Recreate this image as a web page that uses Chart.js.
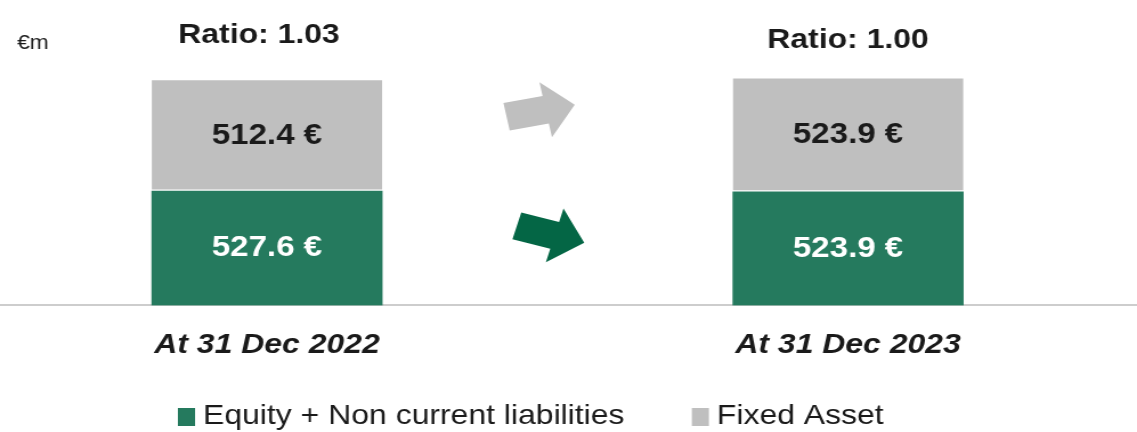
<!DOCTYPE html>
<html>
<head>
<meta charset="utf-8">
<script src="https://cdn.jsdelivr.net/npm/chart.js@4.4.1/dist/chart.umd.min.js"></script>
<style>
  html, body { margin: 0; padding: 0; background: #fff; overflow: hidden; }
  #wrap { width: 1137px; height: 432px; overflow: hidden; }
  /* the artwork uses slightly wide lettering: draw at 997px and stretch to 1137px */
  #c { display: block; transform: scaleX(1.14042); transform-origin: 0 0; }
</style>
</head>
<body>
<div id="wrap"><canvas id="c" width="997" height="432"></canvas></div>
<script>
// ---- data ----
const categories = ['At 31 Dec 2022', 'At 31 Dec 2023'];
const equityNonCurrent = [527.6, 523.9];   // Equity + Non current liabilities, €m
const fixedAsset = [512.4, 523.9];         // Fixed Asset, €m
const seriesNames = ['Equity + Non current liabilities', 'Fixed Asset'];
const unitLabel = '€m';

// ---- style ----
const FONT = '"Liberation Sans", Arial, Helvetica, sans-serif';
const INK = '#1a1a1a';
const GREEN = '#257a5e';
const GREY = '#bfbfbf';

const toPoints = vals => vals.map((v, i) => ({ x: i, y: v }));

// Value labels, ratio headings, unit, arrows and legend
const decorations = {
  id: 'decorations',
  afterDatasetsDraw(chart, args, opts) {
    const ctx = chart.ctx;
    const xs = chart.scales.x, ys = chart.scales.y;
    ctx.save();

    // arrows between the two dates
    opts.arrows.forEach(a => {
      const cx = xs.getPixelForValue(a.x), cy = ys.getPixelForValue(a.y);
      const L = a.length, s = a.shaft / 2, H = a.head / 2, h = a.headLength;
      ctx.save();
      ctx.translate(cx, cy);
      ctx.rotate(a.angle * Math.PI / 180);
      ctx.beginPath();
      ctx.moveTo(-L / 2, -s);
      ctx.lineTo(L / 2 - h, -s);
      ctx.lineTo(L / 2 - h, -H);
      ctx.lineTo(L / 2, 0);
      ctx.lineTo(L / 2 - h, H);
      ctx.lineTo(L / 2 - h, s);
      ctx.lineTo(-L / 2, s);
      ctx.closePath();
      ctx.fillStyle = a.color;
      ctx.fill();
      ctx.restore();
    });

    // segment values
    ctx.textAlign = 'center';
    ctx.textBaseline = 'middle';
    ctx.font = `bold 29px ${FONT}`;
    chart.data.datasets.forEach((ds, di) => {
      chart.getDatasetMeta(di).data.forEach((bar, i) => {
        ctx.fillStyle = ds.valueColor;
        ctx.fillText(ds.data[i].y.toFixed(1) + ' €', bar.x, (bar.y + bar.base) / 2);
      });
    });

    // coverage ratio above each bar
    ctx.font = `bold 28px ${FONT}`;
    ctx.fillStyle = INK;
    categories.forEach((c, i) => {
      const ratio = equityNonCurrent[i] / fixedAsset[i];
      const p = opts.ratioPos[i];
      ctx.fillText('Ratio: ' + ratio.toFixed(2), xs.getPixelForValue(i) + p.dx, p.y);
    });

    // unit
    ctx.textAlign = 'left';
    ctx.font = `20px ${FONT}`;
    ctx.fillText(unitLabel, 15, 43);

    // legend
    const lg = opts.legend;
    let lx = lg.x;
    ctx.font = `28px ${FONT}`;
    chart.data.datasets.forEach(ds => {
      ctx.fillStyle = ds.backgroundColor;
      ctx.fillRect(lx, lg.y - lg.box[1] / 2 + 1, lg.box[0], lg.box[1]);
      lx += lg.box[0] + lg.gap;
      ctx.fillStyle = INK;
      ctx.fillText(ds.label, lx, lg.y);
      lx += ctx.measureText(ds.label).width + lg.spacing;
    });

    ctx.restore();
  }
};

new Chart(document.getElementById('c'), {
  type: 'bar',
  data: {
    datasets: [
      {
        label: seriesNames[0],
        data: toPoints(equityNonCurrent),
        backgroundColor: GREEN,
        valueColor: '#ffffff',
        borderWidth: 0,
        barThickness: 202
      },
      {
        label: seriesNames[1],
        data: toPoints(fixedAsset),
        backgroundColor: GREY,
        valueColor: INK,
        borderColor: '#ffffff',
        borderWidth: { top: 0, left: 0, right: 0, bottom: 2 },
        borderSkipped: false,
        barThickness: 202
      }
    ]
  },
  options: {
    responsive: false,
    animation: false,
    devicePixelRatio: 1,
    layout: { padding: { top: 0, left: 0, right: 0, bottom: 47 } },
    plugins: {
      legend: { display: false },
      tooltip: { enabled: false },
      decorations: {
        ratioPos: [{ dx: -7, y: 35 }, { dx: 0, y: 40 }],
        arrows: [
          { x: 0.471, y: 899, angle: -11.3, length: 61, shaft: 28, head: 56, headLength: 26, color: GREY },
          { x: 0.488, y: 328, angle: 16, length: 61.5, shaft: 28, head: 56, headLength: 27, color: '#046645' }
        ],
        legend: { x: 156, y: 416, box: [15, 18], gap: 7, spacing: 59 }
      }
    },
    scales: {
      x: {
        type: 'linear',
        stacked: true,
        min: -0.4595,
        max: 1.4973,
        offset: false,
        afterBuildTicks: axis => { axis.ticks = categories.map((c, i) => ({ value: i })); },
        ticks: {
          callback: v => categories[Math.round(v)],
          font: { family: FONT, size: 28, weight: 'bold', style: 'italic' },
          color: INK,
          padding: 23,
          maxRotation: 0,
          autoSkip: false
        },
        grid: { display: false, drawTicks: false },
        border: { display: true, color: '#cdcdcd', width: 2 }
      },
      y: {
        stacked: true,
        display: false,
        min: 0,
        max: 1410
      }
    }
  },
  plugins: [decorations]
});
</script>
</body>
</html>
